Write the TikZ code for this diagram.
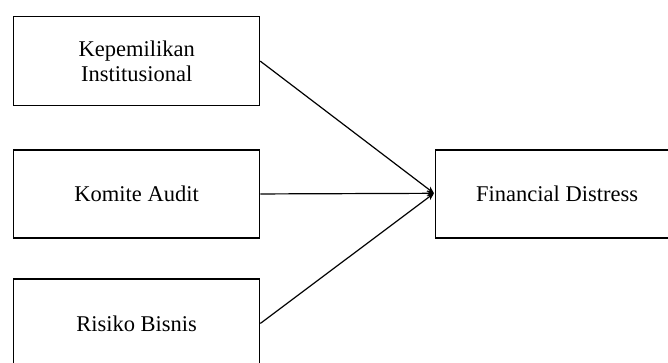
\documentclass[tikz,border=0pt]{standalone}
\usepackage{fontspec}
\setmainfont{Liberation Serif}
\usetikzlibrary{arrows.meta}
\begin{document}
\begin{tikzpicture}[x=1pt,y=-1pt,
  varbox/.style={draw, line width=1.3pt, inner sep=0pt, anchor=north west, align=center,
    font=\fontsize{22.5}{25}\selectfont},
  link/.style={line width=1.2pt, -{Stealth[length=7pt,width=6pt]}}]
\useasboundingbox (0,0) rectangle (668,362);
\clip (0,0) rectangle (668,362);
\fill[white] (0,0) rectangle (668,362);
\node[varbox, minimum width=246pt, minimum height=89pt] (ki) at (13,16) {Kepemilikan\\Institusional};
\node[varbox, minimum width=246pt, minimum height=88pt] (ka) at (13,149.3) {Komite Audit};
\node[varbox, minimum width=246pt, minimum height=89pt] (rb) at (13,278.3) {Risiko Bisnis};
\node[varbox, minimum width=243pt, minimum height=88pt] (fd) at (435,149.3) {Financial Distress};
\coordinate (tip) at (434,193.3);
\draw[link] (ki.east) -- (tip);
\draw[link] (ka.east) -- (tip);
\draw[link] (rb.east) -- (tip);
\end{tikzpicture}
\end{document}
